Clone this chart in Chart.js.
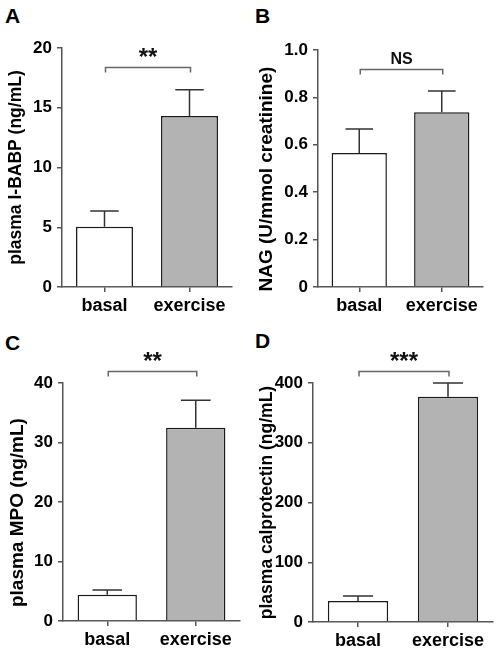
<!DOCTYPE html>
<html>
<head>
<meta charset="utf-8">
<script src="https://cdn.jsdelivr.net/npm/chart.js@4/dist/chart.umd.min.js"></script>
<style>
  html, body { margin: 0; padding: 0; background: #fff; }
  body { width: 498px; height: 648px; position: relative; overflow: hidden; font-family: "Liberation Sans", Arial, sans-serif; }
  .panel { position: absolute; }
  .tag { position: absolute; font: bold 21px/21px "Liberation Sans", Arial, sans-serif; color: #000; }
</style>
</head>
<body>
<div class="tag" style="left:5px;top:5px">A</div>
<div class="tag" style="left:255px;top:5px">B</div>
<div class="tag" style="left:5px;top:332px">C</div>
<div class="tag" style="left:255px;top:330px">D</div>
<div class="panel" style="left:0;top:0;width:249px;height:320px"><canvas id="chart-a"></canvas></div>
<div class="panel" style="left:249px;top:0;width:249px;height:320px"><canvas id="chart-b"></canvas></div>
<div class="panel" style="left:0;top:320px;width:249px;height:328px"><canvas id="chart-c"></canvas></div>
<div class="panel" style="left:249px;top:320px;width:249px;height:328px"><canvas id="chart-d"></canvas></div>
<script>
// values (mean, SEM), two groups per panel
const groups = ["basal", "exercise"];
const barColors = ["#ffffff", "#b3b3b3"];

const ibabpMean = [5.05, 14.3];
const ibabpSem = [1.3, 2.2];
const ibabpTicks = ["0", "5", "10", "15", "20"];

const nagMean = [0.565, 0.737];
const nagSem = [0.102, 0.09];
const nagTicks = ["0", "0.2", "0.4", "0.6", "0.8", "1.0"];

const mpoMean = [4.4, 32.5];
const mpoSem = [0.8, 4.6];
const mpoTicks = ["0", "10", "20", "30", "40"];

const calMean = [35, 377];
const calSem = [8.5, 23];
const calTicks = ["0", "100", "200", "300", "400"];

// significance labels and bracket heights (data units)
const sigLabels = ["**", "NS", "**", "***"];
const bracketLevels = [18.4, 0.92, 42, 420];

const FONT = "'Liberation Sans', Arial, sans-serif";
const AXIS = "#555";

// error bars + significance bracket
const sigPlugin = {
  id: "sig",
  afterDatasetsDraw(chart, args, opts) {
    const { ctx, scales: { x, y } } = chart;
    const bars = chart.getDatasetMeta(0).data;
    ctx.save();
    ctx.lineWidth = 1.5;
    ctx.strokeStyle = "#333";
    opts.mean.forEach((m, i) => {
      const cx = bars[i].x, half = bars[i].width / 4;
      const y0 = y.getPixelForValue(m), y1 = y.getPixelForValue(m + opts.sem[i]);
      ctx.beginPath();
      ctx.moveTo(cx, y0); ctx.lineTo(cx, y1);
      ctx.moveTo(cx - half, y1); ctx.lineTo(cx + half, y1);
      ctx.stroke();
    });
    const xa = x.getPixelForValue(0) + 1, xb = x.getPixelForValue(1) + 1;
    const yb = Math.round(y.getPixelForValue(opts.bracket)) + 0.5;
    ctx.strokeStyle = "#666";
    ctx.beginPath();
    ctx.moveTo(xa, yb + 5); ctx.lineTo(xa, yb); ctx.lineTo(xb, yb); ctx.lineTo(xb, yb + 5);
    ctx.stroke();
    ctx.fillStyle = "#111";
    ctx.textAlign = "center";
    ctx.textBaseline = "alphabetic";
    if (opts.label === "NS") {
      ctx.font = `bold 16px ${FONT}`;
      ctx.fillText(opts.label, (xa + xb) / 2, yb - 6);
    } else {
      ctx.font = `bold 24px ${FONT}`;
      ctx.fillText(opts.label, (xa + xb) / 2, yb - 3);
    }
    ctx.restore();
  },
};

function makePanel(id, box, mean, sem, tickLabels, max, step, title, titleSize, titlePad, idx) {
  new Chart(document.getElementById(id), {
    type: "bar",
    data: {
      labels: groups,
      datasets: [{
        data: mean,
        backgroundColor: barColors,
        borderColor: "#1a1a1a",
        borderWidth: 1.5,
        barPercentage: 0.67,
        categoryPercentage: 1,
      }],
    },
    plugins: [sigPlugin],
    options: {
      responsive: true,
      maintainAspectRatio: false,
      animation: false,
      layout: { padding: { left: 0, top: box.top, right: box.w - box.right, bottom: 0 } },
      plugins: {
        legend: { display: false },
        tooltip: { enabled: false },
        sig: { mean, sem, label: sigLabels[idx], bracket: bracketLevels[idx] },
      },
      scales: {
        x: {
          afterFit: (s) => { s.height = box.h - box.bottom; },
          grid: { offset: false, drawOnChartArea: false, tickLength: 5, color: AXIS, lineWidth: 1.5 },
          border: { color: AXIS, width: 1.5 },
          ticks: { color: "#000", padding: 3, font: { family: FONT, size: 18, weight: "bold" } },
        },
        y: {
          min: 0,
          max,
          afterFit: (s) => { s.width = box.left; },
          grid: { drawOnChartArea: false, tickLength: 5, color: AXIS, lineWidth: 1.5 },
          border: { color: AXIS, width: 1.5 },
          ticks: {
            stepSize: step,
            color: "#000",
            padding: 5,
            font: { family: FONT, size: 17, weight: "bold" },
            callback: (v, i) => tickLabels[i],
          },
          title: {
            display: true,
            text: title,
            color: "#000",
            padding: { top: titlePad, bottom: 0 },
            font: { family: FONT, size: titleSize, weight: "bold" },
          },
        },
      },
    },
  });
}

makePanel("chart-a", { w: 249, h: 320, left: 62, top: 48, right: 232, bottom: 287 },
  ibabpMean, ibabpSem, ibabpTicks, 20, 5, "plasma I-BABP (ng/mL)", 17.5, 6, 0);
makePanel("chart-b", { w: 249, h: 320, left: 69, top: 50, right: 234, bottom: 287 },
  nagMean, nagSem, nagTicks, 1.0, 0.2, "NAG (U/mmol creatinine)    ", 19, 6, 1);
makePanel("chart-c", { w: 249, h: 328, left: 63, top: 63, right: 240, bottom: 301 },
  mpoMean, mpoSem, mpoTicks, 40, 10, "plasma MPO (ng/mL)    ", 19, 6, 2);
makePanel("chart-d", { w: 249, h: 328, left: 64, top: 63, right: 244, bottom: 302 },
  calMean, calSem, calTicks, 400, 100, "plasma calprotectin (ng/mL)", 17.5, 8, 3);
</script>
</body>
</html>
